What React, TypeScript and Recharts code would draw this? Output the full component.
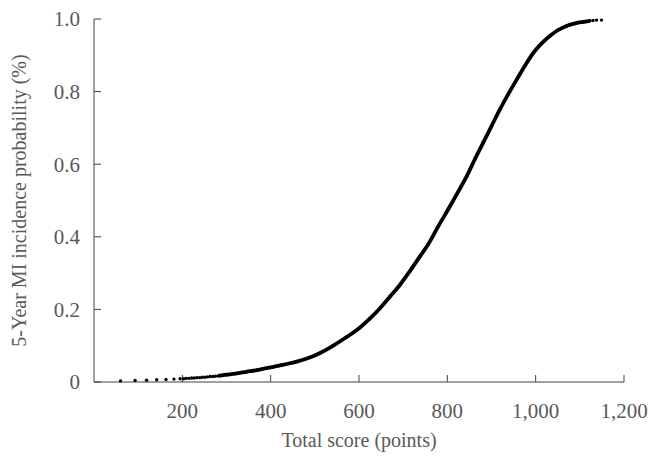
import { Scatter, ScatterChart, XAxis, YAxis } from 'recharts';

// sparse dots at the low end of the score range
const lowScores = [60, 93, 119, 142, 163, 181, 195, 203, 209, 215, 221, 227, 233, 239, 245, 251, 257, 263, 269, 275];
const lowProbs = [0.003, 0.004, 0.005, 0.006, 0.007, 0.008, 0.009, 0.009, 0.01, 0.01, 0.011, 0.011, 0.012, 0.012, 0.013, 0.013, 0.014, 0.015, 0.015, 0.016];

// dense part of the curve
const midScores = [
  281, 300, 320, 345, 370, 400, 430, 459, 490, 512, 540, 572, 601, 625, 648, 670, 693, 715, 738, 756,
  780, 806, 825, 844, 862, 881, 900, 919, 938, 957, 976, 995, 1013, 1032, 1050, 1070, 1090, 1108, 1123
];
const midProbs = [
  0.017, 0.02, 0.023, 0.028, 0.033, 0.04, 0.048, 0.056, 0.068, 0.08, 0.099, 0.124, 0.149, 0.175, 0.204,
  0.235, 0.268, 0.305, 0.346, 0.378, 0.43, 0.484, 0.525, 0.567, 0.613, 0.659, 0.705, 0.751, 0.793, 0.833,
  0.872, 0.907, 0.932, 0.953, 0.969, 0.981, 0.988, 0.992, 0.995
];

// last few dots at the top
const highScores = [1130, 1138, 1149];
const highProbs = [0.996, 0.997, 0.997];

const xTicks = [200, 400, 600, 800, 1000, 1200];
const yTicks = [0, 0.2, 0.4, 0.6, 0.8, 1.0];

const toPoints = (xs: number[], ys: number[]) => xs.map((x, i) => ({ score: x, prob: ys[i] }));

const lowData = toPoints(lowScores, lowProbs);
const midData = toPoints(midScores, midProbs);
const highData = toPoints(highScores, highProbs);

const font = '"Liberation Serif", "Times New Roman", serif';
const textGrey = '#595959';
const axisGrey = '#404040';

const Dot = (props: any) => <circle cx={props.cx} cy={props.cy} r={1.7} fill="#000" />;

export default function App() {
  return (
    <div style={{ position: 'absolute', left: 0, top: 0, fontFamily: font, background: '#fff' }}>
      <ScatterChart width={661} height={457} margin={{ top: 19, right: 37, left: 0, bottom: 0 }}>
        <XAxis
          type="number"
          dataKey="score"
          domain={[0, 1200]}
          ticks={xTicks}
          tickFormatter={(v: number) => v.toLocaleString('en-US')}
          height={75}
          tickSize={-7}
          tickMargin={28}
          stroke={axisGrey}
          tick={{ fill: textGrey, fontSize: 21, fontFamily: font }}
          label={{
            value: 'Total score (points)',
            position: 'insideBottom',
            offset: 10,
            fill: textGrey,
            fontSize: 20,
            fontFamily: font
          }}
        />
        <YAxis
          type="number"
          dataKey="prob"
          domain={[0, 1]}
          ticks={yTicks}
          tickFormatter={(v: number) => (v === 0 ? '0' : v.toFixed(1))}
          width={94}
          tickSize={-7}
          tickMargin={21}
          stroke={axisGrey}
          tick={{ fill: textGrey, fontSize: 21, fontFamily: font }}
          label={{
            value: '5-Year MI incidence probability (%)',
            angle: -90,
            position: 'insideLeft',
            offset: 19,
            textAnchor: 'middle',
            style: { textAnchor: 'middle' },
            fill: textGrey,
            fontSize: 20,
            fontFamily: font
          }}
        />
        <Scatter data={lowData} fill="#000" shape={Dot} isAnimationActive={false} />
        <Scatter
          data={midData}
          fill="#000"
          shape={Dot}
          line={{ stroke: '#000', strokeWidth: 3.8 }}
          lineJointType="monotoneX"
          isAnimationActive={false}
        />
        <Scatter data={highData} fill="#000" shape={Dot} isAnimationActive={false} />
      </ScatterChart>
    </div>
  );
}
